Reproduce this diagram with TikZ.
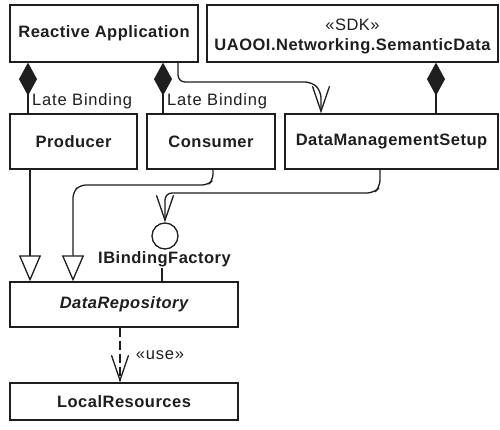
\documentclass[tikz,border=0pt]{standalone}
\usepackage{fontspec}
\setmainfont{Liberation Sans}
\usetikzlibrary{arrows.meta}
\definecolor{ink}{HTML}{1E1E1E}
\tikzset{
  box/.style={draw=ink, line width=1.3pt, inner sep=0pt, font=\fontsize{16.5}{20}\selectfont\bfseries\addfontfeatures{LetterSpace=3}, text=ink},
  conn/.style={draw=ink, line width=1.3pt},
  comp/.style={conn, {Diamond[length=33pt,width=18pt,fill=ink]}-},
  gen/.style={conn, -{Triangle[open,length=26pt,width=22pt,fill=white]}},
  dep/.style={conn, -{Straight Barb[length=25pt,width=17pt,line width=1.3pt]}},
  lbl/.style={font=\fontsize{16.5}{20}\selectfont\addfontfeatures{LetterSpace=5}, text=ink, inner sep=0pt},
  blbl/.style={font=\fontsize{16.5}{20}\selectfont\bfseries\addfontfeatures{LetterSpace=3}, text=ink, inner sep=1pt},
}
\begin{document}
\begin{tikzpicture}[x=1pt,y=-1pt]
\useasboundingbox[fill=white] (0,0) rectangle (500,430);
% boxes
\node[box, minimum width=188pt, minimum height=57pt] (ra) at (104,33.5) {Reactive Application};
\node[box, minimum width=291pt, minimum height=57pt] (sdk) at (352.5,33.5) {};
\node[blbl, align=center, inner sep=0pt, anchor=north] (sdktext) at (352.5,19) {{\mdseries «SDK»}\\UAOOI.Networking.SemanticData};
\node[box, minimum width=127pt, minimum height=55pt] (prod) at (73.5,141.5) {Producer};
\node[box, minimum width=128pt, minimum height=55pt] (cons) at (211,141.5) {Consumer};
\node[box, minimum width=213pt, minimum height=55pt] (dms) at (391.5,141.5) {DataManagementSetup};
\node[box, minimum width=228pt, minimum height=45pt] (dr) at (124,304.5) {\itshape DataRepository};
\node[box, minimum width=228pt, minimum height=37pt] (lr) at (124,401.5) {LocalResources};
% lollipop
\node[draw=ink, line width=1.3pt, circle, minimum size=26pt, inner sep=0pt] (lol) at (165,236) {};
\node[blbl] (ibf) at (164.5,259) {IBindingFactory};
\draw[conn] (ibf.south -| 162,0) -- (162,0 |- dr.north);
% compositions
\draw[comp] (ra.south -| 28,0) -- (28,0 |- prod.north);
\draw[comp] (ra.south -| 163,0) -- (163,0 |- cons.north);
\draw[comp] (sdk.south -| 436,0) -- (436,0 |- dms.north);
\node[lbl, anchor=west] (lb1) at (32,101.5) {Late Binding};
\node[lbl, anchor=west] (lb2) at (167,101.5) {Late Binding};
% reactive -> dms
\draw[dep, rounded corners=7pt] (ra.south -| 178,0) -- (178,82) -- (312,82) -- (321,91) -- (321,0 |- dms.north);
% generalizations
\draw[gen] (prod.south -| 30,0) -- (30,0 |- dr.north);
\draw[gen, rounded corners=6pt] (cons.south -| 213,0) -- (213,180) -- (208,185) -- (80,185) -- (73,192) -- (73,0 |- dr.north);
% dms -> lollipop
\draw[dep, rounded corners=7pt] (dms.south -| 380,0) -- (380,187) -- (374,193) -- (165,193) -- (lol.north);
% use dependency
\draw[dep, dash pattern=on 9pt off 4pt] (dr.south -| 120,0) -- (120,0 |- lr.north);
\node[lbl] (use) at (160,355) {«use»};
\end{tikzpicture}
\end{document}
